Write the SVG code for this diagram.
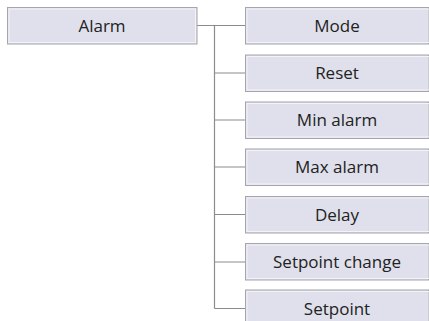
<svg xmlns="http://www.w3.org/2000/svg" width="429" height="321" viewBox="0 0 429 321">
<style>
.box{fill:#dfe0eb;stroke:#a4a5ad;stroke-width:1}
.hl{fill:none;stroke:#f4f4f8;stroke-width:1}
.lbl{font-family:"Open Sans","Noto Sans",sans-serif;font-size:17px;fill:#222;text-anchor:middle}
.con{fill:none;stroke:#8c8c8c;stroke-width:1.2}
</style>
<rect width="429" height="321" fill="#fff"/>
<g id="connectors">
<path class="con" d="M197 25.5H214.5M214.5 25.5V308.5M214.5 25.5H245M214.5 73H245M214.5 120H245M214.5 167H245M214.5 214.5H245M214.5 262H245M214.5 308.5H245"/>
</g>
<g id="alarm"><rect class="box" x="7.5" y="7.5" width="189.5" height="36.5"/><rect class="hl" x="9" y="9" width="186.5" height="33.5"/><text class="lbl" x="102" y="31.5">Alarm</text></g>
<g id="mode"><rect class="box" x="245.5" y="7.5" width="183" height="36.5"/><rect class="hl" x="247" y="9" width="182" height="33.5"/><text class="lbl" x="337" y="31.5">Mode</text></g>
<g id="reset"><rect class="box" x="245.5" y="55" width="183" height="36.5"/><rect class="hl" x="247" y="56.5" width="182" height="33.5"/><text class="lbl" x="337" y="79">Reset</text></g>
<g id="min-alarm"><rect class="box" x="245.5" y="102" width="183" height="36.5"/><rect class="hl" x="247" y="103.5" width="182" height="33.5"/><text class="lbl" x="337" y="126">Min alarm</text></g>
<g id="max-alarm"><rect class="box" x="245.5" y="149" width="183" height="36.5"/><rect class="hl" x="247" y="150.5" width="182" height="33.5"/><text class="lbl" x="337" y="173">Max alarm</text></g>
<g id="delay"><rect class="box" x="245.5" y="196.5" width="183" height="36.5"/><rect class="hl" x="247" y="198" width="182" height="33.5"/><text class="lbl" x="337" y="220.5">Delay</text></g>
<g id="setpoint-change"><rect class="box" x="245.5" y="243.5" width="183" height="36.5"/><rect class="hl" x="247" y="245" width="182" height="33.5"/><text class="lbl" x="337" y="267.5">Setpoint change</text></g>
<g id="setpoint"><rect class="box" x="245.5" y="290" width="183" height="36.5"/><rect class="hl" x="247" y="291.5" width="182" height="33.5"/><text class="lbl" x="337" y="314.5">Setpoint</text></g>
</svg>
